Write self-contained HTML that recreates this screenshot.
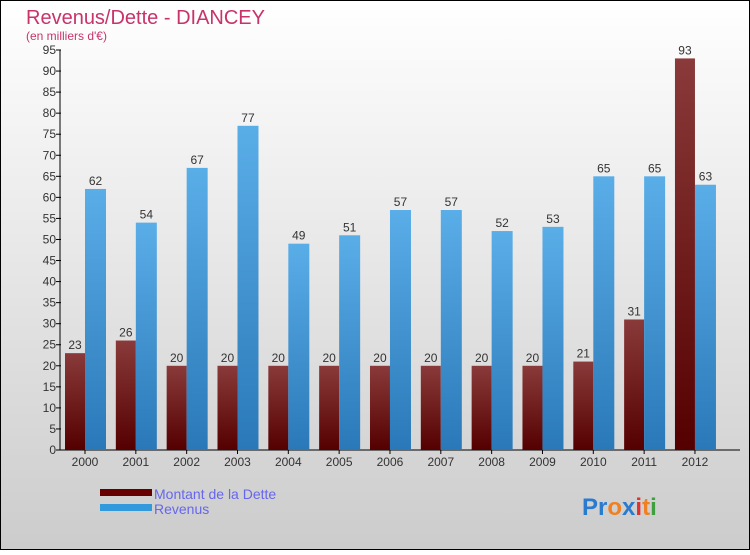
<!DOCTYPE html>
<html><head><meta charset="utf-8"><style>
html,body{margin:0;padding:0}
body{width:750px;height:550px;overflow:hidden;font-family:"Liberation Sans",sans-serif}
</style></head><body>
<svg id="chart" width="750" height="550" xmlns="http://www.w3.org/2000/svg">
<defs>
<linearGradient id="bg" x1="0" y1="0" x2="0" y2="1"><stop offset="0" stop-color="#ffffff"/><stop offset="1" stop-color="#cccccc"/></linearGradient>
<linearGradient id="gd" x1="0" y1="0" x2="0" y2="1"><stop offset="0" stop-color="#8a3a3a"/><stop offset="1" stop-color="#550000"/></linearGradient>
<linearGradient id="gr" x1="0" y1="0" x2="0" y2="1"><stop offset="0" stop-color="#5aaee8"/><stop offset="1" stop-color="#2a78b8"/></linearGradient>
</defs>
<rect x="0.5" y="0.5" width="749" height="549" fill="url(#bg)" stroke="#000"/>
<text x="26" y="24" font-size="20" fill="#c8336a">Revenus/Dette - DIANCEY</text>
<text x="26" y="40" font-size="12" fill="#c8336a">(en milliers d'€)</text>
<g id="plot"></g>
<rect x="100" y="489" width="52" height="7" fill="#660000"/>
<rect x="100" y="504" width="52" height="7" fill="#3399dd"/>
<text x="154" y="499" font-size="14" fill="#6666ee">Montant de la Dette</text>
<text x="154" y="514" font-size="14" fill="#6666ee">Revenus</text>
<text x="582" y="515" font-size="24" font-weight="bold"><tspan fill="#2a7bd0">Pr</tspan><tspan fill="#f08020">o</tspan><tspan fill="#2a7bd0">x</tspan><tspan fill="#e03030">i</tspan><tspan fill="#f08020">t</tspan><tspan fill="#40a040">i</tspan></text>
</svg>
<script>
const years=["2000","2001","2002","2003","2004","2005","2006","2007","2008","2009","2010","2011","2012"];
const dette=[23,26,20,20,20,20,20,20,20,20,21,31,93];
const revenus=[62,54,67,77,49,51,57,57,52,53,65,65,63];
const yTicks=[0,5,10,15,20,25,30,35,40,45,50,55,60,65,70,75,80,85,90,95];
const NS="http://www.w3.org/2000/svg";
const g=document.getElementById('plot');
const x0=60,y0=450,yTop=50,yMax=95,step=50.83,first=85;
const y=v=>y0-v*(y0-yTop)/yMax;
const cx=i=>first+i*step;
function mk(t,a){const e=document.createElementNS(NS,t);for(const k in a)e.setAttribute(k,a[k]);g.appendChild(e);return e;}
let ax=mk('line',{x1:x0,y1:yTop,x2:x0,y2:y0,stroke:'#000'});


let xa=mk('line',{x1:x0,y1:y0,x2:740,y2:y0,stroke:'#000'});


yTicks.forEach(v=>{
 let t=mk('line',{x1:x0-4,y1:y(v),x2:x0+1,y2:y(v),stroke:'#000'});
 
 
 let l=mk('text',{x:x0-4,y:y(v)+4,'font-size':12,'text-anchor':'end',fill:'#333'});
 l.textContent=v;
 
 
});
years.forEach((yr,i)=>{
 const c=cx(i);
 let t=mk('line',{x1:c,y1:y0,x2:c,y2:y0+4,stroke:'#000'});
 
 
 let l=mk('text',{x:c,y:y0+16,'font-size':12,'text-anchor':'middle',fill:'#333'});
 l.textContent=yr;
 
 
 let b1=mk('rect',{x:c-20,y:y(dette[i]),width:20,height:y0-y(dette[i]),fill:'url(#gd)'});
 
 
 let v1=mk('text',{x:c-10,y:y(dette[i])-4,'font-size':12,'text-anchor':'middle',fill:'#333'});
 v1.textContent=dette[i];
 
 
 let b2=mk('rect',{x:c,y:y(revenus[i]),width:21,height:y0-y(revenus[i]),fill:'url(#gr)'});
 
 
 let v2=mk('text',{x:c+10.5,y:y(revenus[i])-4,'font-size':12,'text-anchor':'middle',fill:'#333'});
 v2.textContent=revenus[i];
 
 
});
</script>
</body></html>
